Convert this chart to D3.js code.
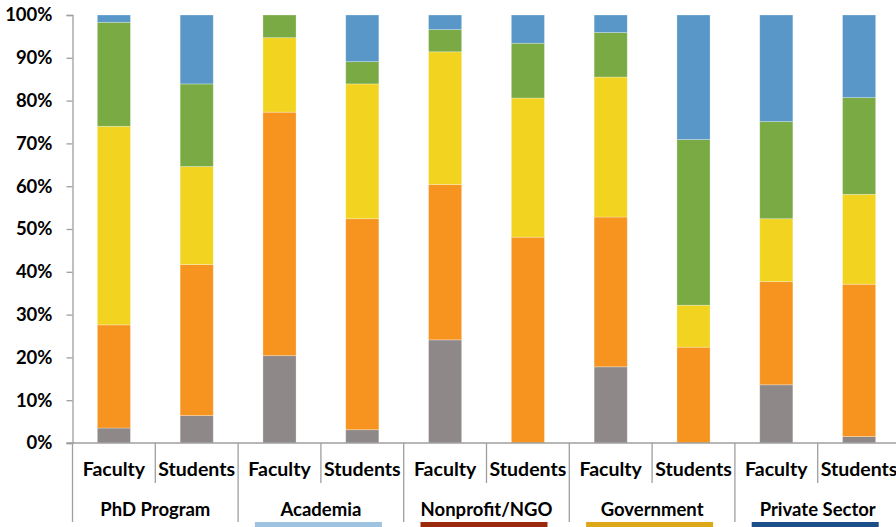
<!DOCTYPE html>
<html>
<head>
<meta charset="utf-8">
<script src="https://cdn.jsdelivr.net/npm/d3@7"></script>
<style>
  body { margin: 0; background: #fff; }
  text { font-family: Lato, "Open Sans", sans-serif; font-weight: bold; fill: #000; }
</style>
</head>
<body>
<svg></svg>
<script>
const groups = ["PhD Program", "Academia", "Nonprofit/NGO", "Government", "Private Sector"];
const roles = ["Faculty", "Students"];
const yTicks = [0, 10, 20, 30, 40, 50, 60, 70, 80, 90, 100];

// segment sizes (percent), one value per bar, bottom to top
const seriesGray   = [3.5, 6.4, 20.4, 3.1, 24.1, 0,    17.8, 0,    13.6, 1.5];
const seriesOrange = [24.1, 35.3, 56.9, 49.3, 36.3, 48.1, 35.0, 22.4, 24.1, 35.6];
const seriesYellow = [46.4, 22.9, 17.4, 31.5, 31.0, 32.5, 32.7, 9.8, 14.7, 21.0];
const seriesGreen  = [24.3, 19.3, 5.3, 5.2, 5.2, 12.8, 10.4, 38.7, 22.7, 22.6];
const seriesBlue   = [1.7, 16.1, 0, 10.9, 3.4, 6.6, 4.1, 29.1, 24.9, 19.3];

const seriesKeys = ["gray", "orange", "yellow", "green", "blue"];
const seriesColors = ["#8e8988", "#f6941f", "#f2d320", "#7aaa43", "#5897c8"];

// coloured strips under the sector groups
const stripGroups = ["Academia", "Nonprofit/NGO", "Government", "Private Sector"];
const stripColors = ["#9dc3e1", "#9a2a0b", "#dca818", "#1c4f89"];

const width = 896, height = 527;
const marginTop = 15, marginLeft = 72.5, marginBottom = 84, plotRight = 900.5;

const bars = [];
groups.forEach(g => roles.forEach(r => bars.push({group: g, role: r, id: g + "|" + r})));
const rows = bars.map((b, i) => ({
  id: b.id,
  gray: seriesGray[i], orange: seriesOrange[i], yellow: seriesYellow[i],
  green: seriesGreen[i], blue: seriesBlue[i]
}));

const stack = d3.stack().keys(seriesKeys)(rows);

const x = d3.scaleBand()
  .domain(bars.map(d => d.id))
  .range([marginLeft, plotRight])
  .paddingInner(0.6)
  .paddingOuter(0.3);

const xg = d3.scaleBand()
  .domain(groups)
  .range([marginLeft, plotRight]);

const y = d3.scaleLinear()
  .domain([0, 100])
  .range([height - marginBottom, marginTop]);

const color = d3.scaleOrdinal().domain(seriesKeys).range(seriesColors);

const svg = d3.select("svg")
  .attr("width", width)
  .attr("height", height)
  .attr("viewBox", [0, 0, width, height]);

// bars
svg.append("g")
  .selectAll("g")
  .data(stack)
  .join("g")
  .attr("fill", d => color(d.key))
  .selectAll("rect")
  .data(d => d)
  .join("rect")
  .attr("x", d => x(d.data.id))
  .attr("width", x.bandwidth())
  .attr("y", d => y(d[1]))
  .attr("height", d => y(d[0]) - y(d[1]))
  .attr("stroke", "#fff")
  .attr("stroke-opacity", 0.35)
  .attr("stroke-width", 0.8);

// y axis
svg.append("g")
  .attr("transform", `translate(${marginLeft},0)`)
  .call(d3.axisLeft(y).tickValues(yTicks).tickSize(6).tickPadding(14).tickFormat(d => d + "%"))
  .call(g => g.select(".domain").attr("stroke", "#9f9f9f").attr("stroke-width", 1.3))
  .call(g => g.selectAll(".tick line").attr("stroke", "#9f9f9f").attr("stroke-width", 1.3))
  .call(g => g.selectAll(".tick text").style("font-size", "18.5px").attr("fill", "#000"));

// x axis line
const y0 = y(0);
svg.append("line")
  .attr("x1", marginLeft - 6).attr("x2", plotRight)
  .attr("y1", y0).attr("y2", y0)
  .attr("stroke", "#9f9f9f").attr("stroke-width", 1.3);

// separators between Faculty / Students
svg.append("g")
  .selectAll("line")
  .data(groups)
  .join("line")
  .attr("x1", d => xg(d) + xg.bandwidth() / 2)
  .attr("x2", d => xg(d) + xg.bandwidth() / 2)
  .attr("y1", y0).attr("y2", y0 + 40)
  .attr("stroke", "#9f9f9f").attr("stroke-width", 1.3);

// separators between groups
svg.append("g")
  .selectAll("line")
  .data(groups.concat(["end"]))
  .join("line")
  .attr("x1", (d, i) => marginLeft + i * xg.bandwidth())
  .attr("x2", (d, i) => marginLeft + i * xg.bandwidth())
  .attr("y1", y0).attr("y2", y0 + 79)
  .attr("stroke", "#9f9f9f").attr("stroke-width", 1.3);

// role labels
svg.append("g")
  .selectAll("text")
  .data(bars)
  .join("text")
  .attr("x", d => x(d.id) + x.bandwidth() / 2)
  .attr("y", y0 + 33)
  .attr("text-anchor", "middle")
  .style("font-size", "19.5px")
  .text(d => d.role);

// group labels
svg.append("g")
  .selectAll("text")
  .data(groups)
  .join("text")
  .attr("x", d => xg(d) + xg.bandwidth() / 2)
  .attr("y", y0 + 73)
  .attr("text-anchor", "middle")
  .style("font-size", "18.5px")
  .text(d => d);

// coloured strips at the bottom
svg.append("g")
  .selectAll("rect")
  .data(stripGroups)
  .join("rect")
  .attr("x", (d, i) => xg(d) + xg.bandwidth() / 2 - 66)
  .attr("width", 127)
  .attr("y", 522)
  .attr("height", 6)
  .attr("fill", (d, i) => stripColors[i]);
</script>
</body>
</html>
